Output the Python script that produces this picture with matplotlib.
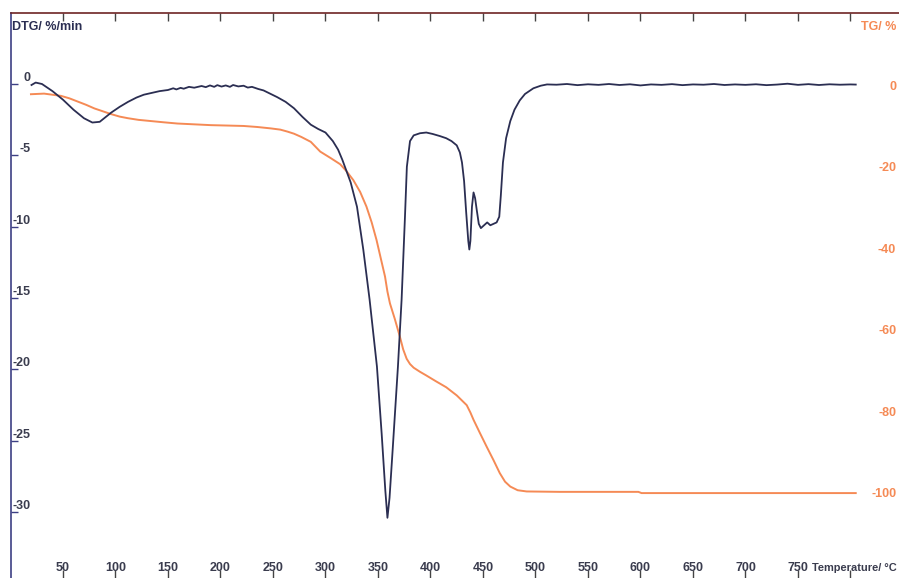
import matplotlib
matplotlib.use("Agg")
import matplotlib.pyplot as plt

plt.rcParams["font.family"] = ["Liberation Sans", "DejaVu Sans"]

# ---- data ----
dtg_temp = [20, 24, 30, 40, 50, 60, 70, 78, 85, 96, 104, 112, 120, 127, 135, 142, 150, 155, 158, 162,
            165, 170, 175, 182, 186, 190, 194, 197, 201, 205, 209, 212, 217, 222, 226, 230, 236, 241,
            248, 254, 262, 270, 278, 286, 293, 300, 307, 312, 316, 320, 324, 330, 336, 342, 349,
            353.5, 357, 359, 361, 364, 369, 372.5, 375.7, 377.5, 380.5, 384, 390, 396, 402, 409, 415,
            420, 425, 428, 430, 432, 434, 436, 437, 438, 439.5, 441, 442.5, 444, 446, 448, 451, 454,
            457, 460, 463, 465.5, 467, 469, 472, 476, 480, 485, 490, 498, 505, 511,
            520, 530, 540, 550, 560, 570, 580, 590, 600, 610, 620, 630, 640, 650, 660, 670, 680,
            690, 700, 710, 720, 730, 740, 750, 760, 770, 780, 790, 800, 805]
dtg_vals = [-0.07, 0.1, 0.0, -0.5, -1.1, -1.8, -2.4, -2.7, -2.65, -2.0, -1.6, -1.25, -0.95, -0.75, -0.62,
            -0.5, -0.42, -0.3, -0.38, -0.27, -0.33, -0.2, -0.26, -0.14, -0.22, -0.1, -0.2, -0.08, -0.18,
            -0.1, -0.2, -0.07, -0.17, -0.12, -0.25, -0.2, -0.35, -0.45, -0.7, -0.92, -1.25, -1.7, -2.3,
            -2.85, -3.15, -3.4, -4.0, -4.6, -5.3, -6.1, -6.9, -8.6, -11.6, -15.1, -19.8, -24.5, -28.5,
            -30.4, -29.0, -25.6, -19.8, -15.1, -9.3, -5.8, -4.0, -3.6, -3.45, -3.4, -3.5, -3.65, -3.8,
            -4.0, -4.3, -4.8, -5.5, -6.8, -9.0, -11.0, -11.6, -11.0, -8.6, -7.6, -8.0, -8.8, -9.8,
            -10.1, -9.9, -9.7, -9.9, -9.8, -9.7, -9.3, -7.8, -5.5, -3.8, -2.6, -1.8, -1.15, -0.7, -0.3,
            -0.12, -0.03, -0.05, -0.0, -0.08, -0.02, -0.06, 0.0, -0.07, -0.02, -0.1, -0.03, -0.06,
            -0.01, -0.08, -0.03, -0.05, 0.0, -0.07, -0.03, -0.06, -0.02, -0.08, -0.04, 0.02, -0.06,
            -0.01, -0.07, -0.02, -0.05, -0.03, -0.04]

tg_temp = [19.5, 32, 48, 56, 64, 72, 80, 88, 96, 104, 112, 122, 134, 146, 159, 175, 191, 207, 222,
           235, 248, 257, 264, 270, 277, 286, 295, 305, 314, 320, 326.5, 333, 339, 344, 348.6, 353,
           356.7, 359, 361.4, 366, 371, 374, 377.3, 380.5, 384, 390, 396, 405, 415, 425, 434.5, 438,
           441, 447, 453.5, 460, 466, 471, 476, 483, 491.6, 523, 560, 598, 601, 700, 805]
tg_vals = [-0.3, -0.15, -0.7, -1.3, -2.1, -2.9, -3.8, -4.5, -5.2, -5.8, -6.2, -6.6, -6.9, -7.2, -7.5,
           -7.7, -7.9, -8.0, -8.1, -8.35, -8.7, -9.0, -9.5, -10.0, -10.8, -12.0, -14.4, -16.0, -17.5,
           -19.2, -21.4, -24.3, -27.9, -31.8, -36.1, -41.0, -45.1, -48.8, -51.7, -55.5, -60.0, -63.0,
           -65.3, -66.6, -67.5, -68.5, -69.4, -70.8, -72.3, -74.3, -76.7, -78.5, -80.3, -83.5, -86.9,
           -90.2, -93.4, -95.5, -96.7, -97.6, -97.9, -98.0, -98.0, -98.0, -98.3, -98.3, -98.3]

x_ticks = [50, 100, 150, 200, 250, 300, 350, 400, 450, 500, 550, 600, 650, 700, 750, 800]
x_labels = ["50", "100", "150", "200", "250", "300", "350", "400", "450", "500", "550", "600",
            "650", "700", "750", ""]
dtg_ticks = [0, -5, -10, -15, -20, -25, -30]
tg_ticks = [0, -20, -40, -60, -80, -100]

# ---- styling ----
W, H = 899, 578
navy = "#2b2e52"
axis_navy = "#3d3f84"
orange = "#f58a55"
label_dark = "#3a3c4e"
fs = 9

fig = plt.figure(figsize=(W / 100, H / 100), dpi=100)
left_px, right_px, top_px, bottom_px = 11, 915, 13, 578
ax = fig.add_axes([left_px / W, 1 - bottom_px / H, (right_px - left_px) / W, (bottom_px - top_px) / H])
ax2 = ax.twinx()

ax.plot(dtg_temp, dtg_vals, color=navy, lw=1.3, zorder=3)
ax2.plot(tg_temp, tg_vals, color=orange, lw=1.4, zorder=2)
ax.set_zorder(ax2.get_zorder() + 1)
ax.patch.set_visible(False)

ax.set_xlim(0.5, (right_px - 10.5) / 1.05)
ax.set_ylim(-(bottom_px - 84) / 14.27, (84 - top_px) / 14.27)
ax2.set_ylim(-(bottom_px - 93) / 4.07, (93 - top_px) / 4.07)

for a in (ax, ax2):
    for s in a.spines.values():
        s.set_visible(False)
ax.spines["left"].set_visible(True)
ax.spines["left"].set_color(axis_navy)
ax.spines["left"].set_linewidth(1.2)
ax.spines["top"].set_visible(True)
ax.spines["top"].set_color("#6e2424")
ax.spines["top"].set_linewidth(1.2)

ax.set_xticks(x_ticks)
ax.set_xticklabels(x_labels)
ax.tick_params(axis="x", direction="in", bottom=True, top=True, length=5.5, width=1,
               color="#444444", pad=-11.5, labelsize=fs, labelcolor=label_dark)
for lbl in ax.get_xticklabels():
    lbl.set_fontweight("bold")

ax.set_yticks(dtg_ticks)
ax.set_yticklabels([str(t) for t in dtg_ticks])
ax.tick_params(axis="y", direction="in", length=5, width=1, color=axis_navy,
               pad=-14, labelsize=fs, labelcolor=label_dark)
for lbl in ax.get_yticklabels():
    lbl.set_fontweight("bold")
    lbl.set_va("bottom")

ax2.set_yticks(tg_ticks)
ax2.set_yticklabels([str(t) for t in tg_ticks])
ax2.tick_params(axis="y", direction="in", length=0, pad=-13.5, labelsize=fs, labelcolor=orange)
for lbl in ax2.get_yticklabels():
    lbl.set_fontweight("bold")
    lbl.set_ha("right")
    lbl.set_va("bottom")

fig.text(12 / W, 1 - 27 / H, "DTG/ %/min", color=navy, fontsize=fs, fontweight="bold",
         ha="left", va="center")
fig.text(896 / W, 1 - 27 / H, "TG/ %", color=orange, fontsize=fs, fontweight="bold",
         ha="right", va="center")
fig.text(897 / W, 1 - 568 / H, "Temperature/ °C", color=label_dark, fontsize=7.9,
         fontweight="bold", ha="right", va="center")

fig.savefig("out.png", dpi=100)
